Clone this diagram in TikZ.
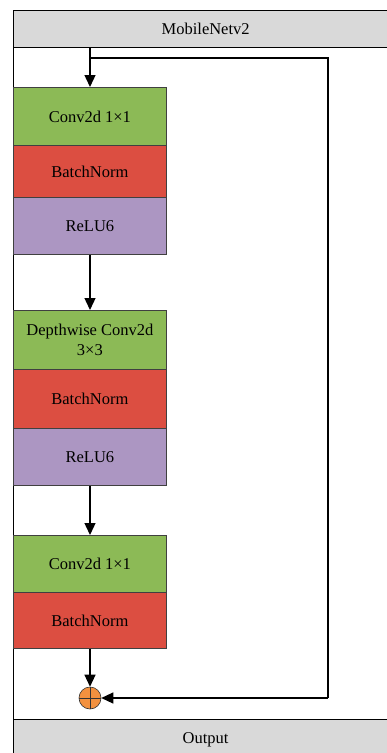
\documentclass[tikz,border=0pt]{standalone}
\usepackage{fontspec}
\setmainfont{Liberation Serif}
\usetikzlibrary{arrows.meta}
\definecolor{gbox}{HTML}{8CBA56}
\definecolor{rbox}{HTML}{DC4E41}
\definecolor{pbox}{HTML}{AC96C2}
\definecolor{bar}{HTML}{D9D9D9}
\definecolor{orng}{HTML}{F3913F}
\tikzset{
  layer/.style={draw=black!75, line width=0.8pt, minimum width=153pt, anchor=north west, inner sep=0pt, align=center, font=\fontsize{16.5}{20}\selectfont},
  barbox/.style={draw=black, line width=1.3pt, fill=bar, minimum width=384pt, anchor=north west, inner sep=0pt, font=\fontsize{16.5}{20}\selectfont},
  conn/.style={line width=1.3pt, -{Triangle[length=12pt,width=11pt]}},
  plain/.style={line width=1.3pt}
}
\begin{document}
\begin{tikzpicture}[x=1pt,y=-1pt]
\useasboundingbox (0,0) rectangle (387,753);
\clip (0,0) rectangle (387,753);
\fill[white] (0,0) rectangle (387,753);
\draw[line width=1pt] (13,40) -- (13,730);
\node[barbox, minimum height=37pt] (top) at (13,10) {MobileNetv2};
\node[barbox, minimum height=40pt] (out) at (13,719) {Output};
% block 1
\node[layer, fill=gbox, minimum height=58pt] (c1) at (13,87) {Conv2d 1×1};
\node[layer, fill=rbox, minimum height=52pt] (b1) at (13,145) {BatchNorm};
\node[layer, fill=pbox, minimum height=57pt] (r1) at (13,197) {ReLU6};
% block 2
\node[layer, fill=gbox, minimum height=59pt] (d2) at (13,310) {Depthwise Conv2d\\3×3};
\node[layer, fill=rbox, minimum height=59pt] (b2) at (13,369) {BatchNorm};
\node[layer, fill=pbox, minimum height=57pt] (r2) at (13,428) {ReLU6};
% block 3
\node[layer, fill=gbox, minimum height=57pt] (c3) at (13,535) {Conv2d 1×1};
\node[layer, fill=rbox, minimum height=56pt] (b3) at (13,592) {BatchNorm};
% add
\node[circle, draw=black!80, line width=0.6pt, fill=orng, minimum size=22pt, inner sep=0pt,
  path picture={\draw[black!80, line width=0.6pt] (path picture bounding box.north) -- (path picture bounding box.south) (path picture bounding box.west) -- (path picture bounding box.east);}] (add) at (90,698) {};
\coordinate (split) at (90,58);
\coordinate (tr) at (328,58);
\coordinate (br) at (328,698);
\draw[conn] (90,47) -- (c1.north -| 90,0);
\draw[conn] (r1.south -| 90,0) -- (d2.north -| 90,0);
\draw[conn] (r2.south -| 90,0) -- (c3.north -| 90,0);
\draw[conn] (b3.south -| 90,0) -- (add.north);
\draw[plain] (split) -- (tr) -- (br);
\draw[conn] (br) -- (add.east);
\end{tikzpicture}
\end{document}
